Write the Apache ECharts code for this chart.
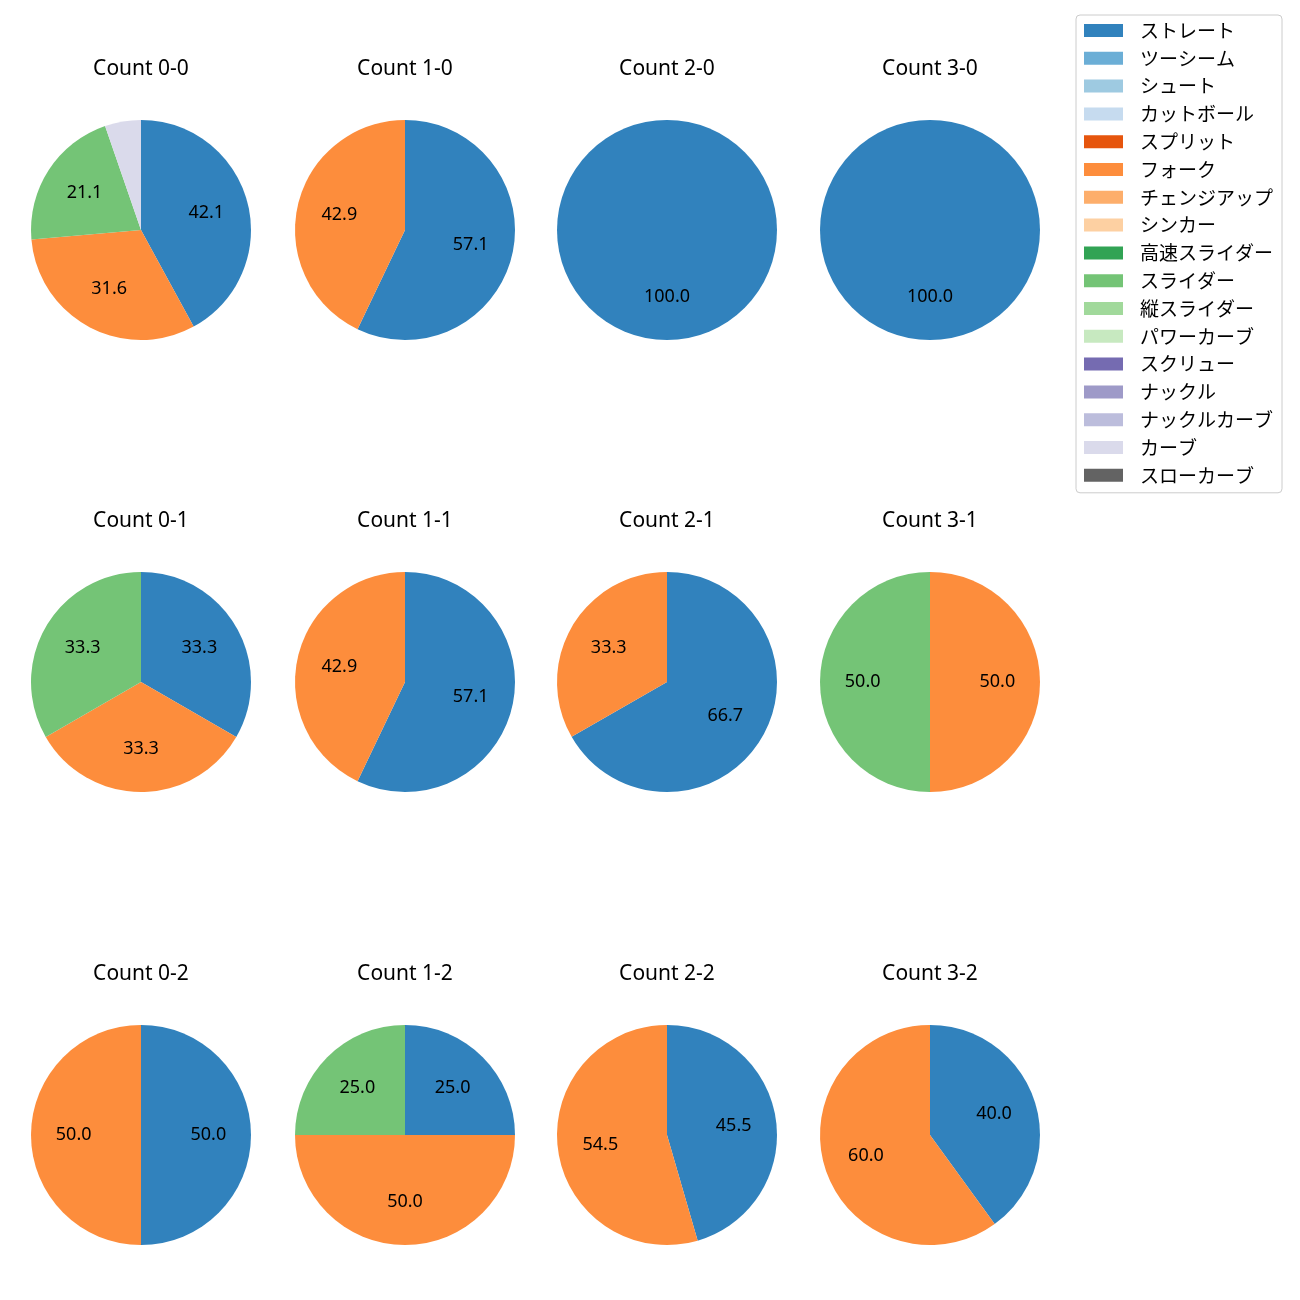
<!DOCTYPE html>
<html><head><meta charset="utf-8">
<script src="https://cdn.jsdelivr.net/npm/echarts@6/dist/echarts.min.js"></script>
<style>html,body{margin:0;padding:0;background:#fff}#c{width:1300px;height:1300px}</style>
</head><body><div id="c"></div>
<script>
const pitchTypes = ['ストレート','ツーシーム','シュート','カットボール','スプリット','フォーク','チェンジアップ','シンカー','高速スライダー','スライダー','縦スライダー','パワーカーブ','スクリュー','ナックル','ナックルカーブ','カーブ','スローカーブ'];
const pitchColors = ['#3182bd','#6baed6','#9ecae1','#c6dbef','#e6550d','#fd8d3c','#fdae6b','#fdd0a2','#31a354','#74c476','#a1d99b','#c7e9c0','#756bb1','#9e9ac8','#bcbddc','#dadaeb','#636363'];
const countLabels = ['Count 0-0','Count 1-0','Count 2-0','Count 3-0','Count 0-1','Count 1-1','Count 2-1','Count 3-1','Count 0-2','Count 1-2','Count 2-2','Count 3-2'];
// shares (%) per count, by pitch type name (types not listed are 0)
const count00 = {'ストレート':42.1,'フォーク':31.6,'スライダー':21.1,'カーブ':5.3};
const count10 = {'ストレート':57.1,'フォーク':42.9};
const count20 = {'ストレート':100.0};
const count30 = {'ストレート':100.0};
const count01 = {'ストレート':33.3,'フォーク':33.3,'スライダー':33.3};
const count11 = {'ストレート':57.1,'フォーク':42.9};
const count21 = {'ストレート':66.7,'フォーク':33.3};
const count31 = {'フォーク':50.0,'スライダー':50.0};
const count02 = {'ストレート':50.0,'フォーク':50.0};
const count12 = {'ストレート':25.0,'フォーク':50.0,'スライダー':25.0};
const count22 = {'ストレート':45.5,'フォーク':54.5};
const count32 = {'ストレート':40.0,'フォーク':60.0};
const countData = [count00,count10,count20,count30,count01,count11,count21,count31,count02,count12,count22,count32];

const colX = [141, 405, 667, 930];
const rowY = [230, 682, 1135];
const R = 110;
const CJK = '"Noto Sans CJK JP", "Noto Sans", sans-serif';
const LAT = '"Noto Sans", "Noto Sans CJK JP", sans-serif';

const series = [];
const titles = [];
countData.forEach((cd, i) => {
  const cx = colX[i % 4], cy = rowY[Math.floor(i / 4)];
  const data = pitchTypes.map((p, k) => ({
    name: p, value: cd[p] !== undefined ? cd[p] : 0, itemStyle: {color: pitchColors[k]}
  }));
  const shown = data.filter(d => d.value > 0);
  const total = shown.reduce((s, d) => s + d.value, 0);
  series.push({
    type: 'pie', center: [cx, cy], radius: [0, R], startAngle: 90, clockwise: true,
    silent: true, animation: false, label: {show: false}, labelLine: {show: false},
    itemStyle: {borderWidth: 0}, data: data
  });
  // transparent ring carrying labels at ~0.6 R
  series.push({
    type: 'pie', center: [cx, cy], radius: [0, R * 1.17], startAngle: 90, clockwise: true,
    silent: true, animation: false, legendHoverLink: false,
    itemStyle: {color: 'rgba(0,0,0,0)', borderWidth: 0},
    label: {show: true, position: 'inside', color: '#000', fontSize: 18, fontFamily: LAT,
      formatter: p => { const v = p.value / total * 100; return v < 10 ? '' : v.toFixed(1); }},
    labelLine: {show: false},
    data: shown.map(d => ({name: d.name + ' ', value: d.value}))
  });
  titles.push({text: countLabels[i], left: cx, top: cy - 171, textAlign: 'center', padding: 0,
    textStyle: {fontSize: 21, fontWeight: 'normal', color: '#000', fontFamily: LAT}});
});

const chart = echarts.init(document.getElementById('c'), null, {renderer: 'canvas'});
chart.setOption({
  backgroundColor: '#fff',
  animation: false,
  title: titles,
  legend: {
    orient: 'vertical', left: 1076, top: 15,
    data: pitchTypes.map((p, i) => ({name: p, itemStyle: {color: pitchColors[i]}})),
    icon: 'rect', itemWidth: 39, itemHeight: 13, itemGap: 8.8,
    padding: [6, 9, 8, 8],
    borderColor: '#cccccc', borderWidth: 1, borderRadius: 4, backgroundColor: '#fff',
    selectedMode: false,
    formatter: n => '{a|' + n + '}',
    textStyle: {color: '#000', fontSize: 19, fontFamily: CJK,
      rich: {a: {fontSize: 19, fontFamily: CJK, padding: [0, 0, 0, 12]}}}
  },
  series: series
});
</script></body></html>
